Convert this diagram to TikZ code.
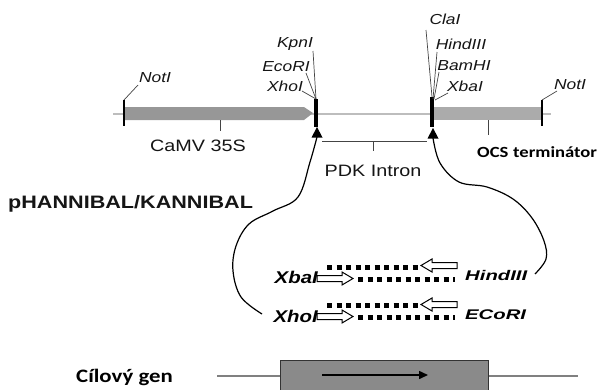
\documentclass[tikz,border=0pt]{standalone}
\usepackage{fontspec}
\setmainfont{Liberation Sans}
\newfontfamily\sfw[FakeStretch=1.2]{Liberation Sans}
\newfontfamily\sfx[FakeStretch=1.45]{Liberation Sans}
\newfontfamily\cbw[FakeStretch=1.2]{Carlito}
\usetikzlibrary{arrows.meta}
\definecolor{txt}{HTML}{151515}
\definecolor{bbone}{HTML}{BDBDBD}
\definecolor{camv}{HTML}{979797}
\definecolor{ocs}{HTML}{ABABAB}
\definecolor{boxg}{HTML}{8A8A8A}
\begin{document}
\begin{tikzpicture}[x=1pt,y=-1pt,
  enz/.style={font=\sfw\itshape\fontsize{14.5}{16}\selectfont, text=txt, inner sep=0pt},
  lab/.style={font=\sfw\fontsize{16.5}{18}\selectfont, text=txt, inner sep=0pt},
  blab/.style={font=\cbw\bfseries\fontsize{15.5}{18}\selectfont, text=black, inner sep=0pt},
  ins/.style={font=\sfw\bfseries\itshape\fontsize{17}{19}\selectfont, text=black, inner sep=0pt},
  insr/.style={font=\sfx\bfseries\itshape\fontsize{14}{16}\selectfont, text=black, inner sep=0pt},
  leader/.style={draw=txt!80, line width=0.7pt},
  curve/.style={draw=black, line width=1.2pt},
  hollow/.style={draw=black, fill=white, line width=1pt, line join=miter},
  dots/.style={draw=black, line width=5pt, dash pattern=on 5pt off 4.5pt},
  rarrow/.pic={\draw[hollow] (0,-3) -- (25,-3) -- (25,-6.5) -- (36,0) -- (25,6.5) -- (25,3) -- (0,3) -- cycle;},
]
\useasboundingbox (0,0) rectangle (599,389);
\clip (0,0) rectangle (599,389);

% backbone
\coordinate (bbL) at (113,114);
\coordinate (bbR) at (551,114);
\draw[bbone, line width=2.5pt] (bbL) -- (bbR);
% CaMV 35S block (arrow)
\fill[camv] (123,107) -- (304,107) -- (313,113) -- (304,120) -- (123,120) -- cycle;
% OCS block
\fill[ocs] (433,107) rectangle (542,120);
% ticks
\draw[black, line width=2pt] (124,100) coordinate (n1) -- (124,126);
\draw[black, line width=2pt] (542,100) coordinate (n2) -- (542,126);
\draw[black, line width=4pt] (316,99) coordinate (t1) -- (316,127);
\draw[black, line width=4pt] (432,97) coordinate (t2) -- (432,127);
% triangles
\fill[black] (317,127) coordinate (tri1) -- (322.5,137.5) -- (311.5,137.5) -- cycle;
\fill[black] (433,128) coordinate (tri2) -- (438.5,138.5) -- (427.5,138.5) -- cycle;
\coordinate (c1) at (317,137);
\coordinate (c2) at (433,138);

% enzyme labels left
\node[enz] (notI1) at (155,78) {NotI};
\node[enz] (kpn) at (295,44) {KpnI};
\node[enz] (eco) at (286,67) {EcoRI};
\node[enz] (xho) at (285,86) {XhoI};
\draw[leader] (n1) -- (138,85);
\draw[leader] (313,51) -- (t1);
\draw[leader] (306,73) -- (t1);
\draw[leader] (302,91) -- (t1);
% enzyme labels right
\node[enz] (cla) at (445,19) {ClaI};
\node[enz] (hind) at (461,44) {HindIII};
\node[enz] (bam) at (464,66) {BamHI};
\node[enz] (xba) at (465,86) {XbaI};
\node[enz] (notI2) at (570,85) {NotI};
\draw[leader] (426,30) -- (t2);
\draw[leader] (437,52) -- (433,99);
\draw[leader] (439,72) -- (434,99);
\draw[leader] (448,93) -- (435,100);
\draw[leader] (n2) -- (557,91);

% CaMV 35S label
\draw[txt!80, line width=0.8pt] (220,120) -- (220,131);
\node[lab] (camvlab) at (198,146) {CaMV 35S};
% PDK intron bracket
\draw[txt!80, line width=0.8pt] (322,141) -- (427,141);
\draw[txt!80, line width=0.8pt] (373,141) -- (373,151);
\node[lab] (pdk) at (373,171) {PDK Intron};
% OCS terminator
\draw[txt!80, line width=0.8pt] (488,120) -- (488,135);
\node[blab, anchor=west] (ocsl) at (477,152) {OCS};
\node[blab, anchor=west] (term) at (513,152) {terminátor};

% title
\node[font=\sfw\bfseries\fontsize{18}{20}\selectfont, text=txt, anchor=west, inner sep=0pt] (title) at (8,204) {pHANNIBAL/KANNIBAL};

% insert labels
\node[ins, anchor=east] (xbaI) at (318,277) {XbaI};
\node[ins, anchor=east] (xhoI) at (318,316) {XhoI};
\node[insr, anchor=west] (hindI) at (465,275) {HindIII};
\node[insr, anchor=west] (ecoI) at (465,315) {ECoRI};

% insert 1
\draw[dots] (327,267) -- (418,267);
\draw[dots] (358,279) -- (455,279);
\pic at (317,278.5) {rarrow};
\pic[xscale=-1] at (457,265.5) {rarrow};
% insert 2
\draw[dots] (327,305) -- (418,305);
\draw[dots] (358,317) -- (455,317);
\pic at (317,316.5) {rarrow};
\pic[xscale=-1] at (457,304.5) {rarrow};

% curves
\coordinate (e1) at (262,314);
\coordinate (e2) at (535,274);
\draw[curve] plot[smooth, tension=0.6] coordinates {(c1) (310,162) (298,197) (273,211) (249,224) (236,246) (233,271) (241,297) (e1)};
\draw[curve] plot[smooth, tension=0.6] coordinates {(c2) (440,163) (459,182) (487,187) (513,199) (532,218) (544,241) (546,259) (e2)};

% target gene
\node[font=\cbw\bfseries\fontsize{19}{21}\selectfont, anchor=west, inner sep=0pt] (gen) at (76,377) {Cílový gen};
\coordinate (gL) at (217,376);
\coordinate (gR) at (578,376);
\draw[gray, line width=1.2pt] (gL) -- (280,376);
\draw[gray, line width=1.2pt] (488,376) -- (gR);
\fill[boxg] (280,360) rectangle (488,395);
\draw[black!80, line width=1pt] (280,395) -- (280,360) -- (488,360) -- (488,395);
\draw[black, line width=1.5pt, -{Triangle[length=9pt,width=8pt]}] (322,375) -- (428,375);
\end{tikzpicture}
\end{document}
